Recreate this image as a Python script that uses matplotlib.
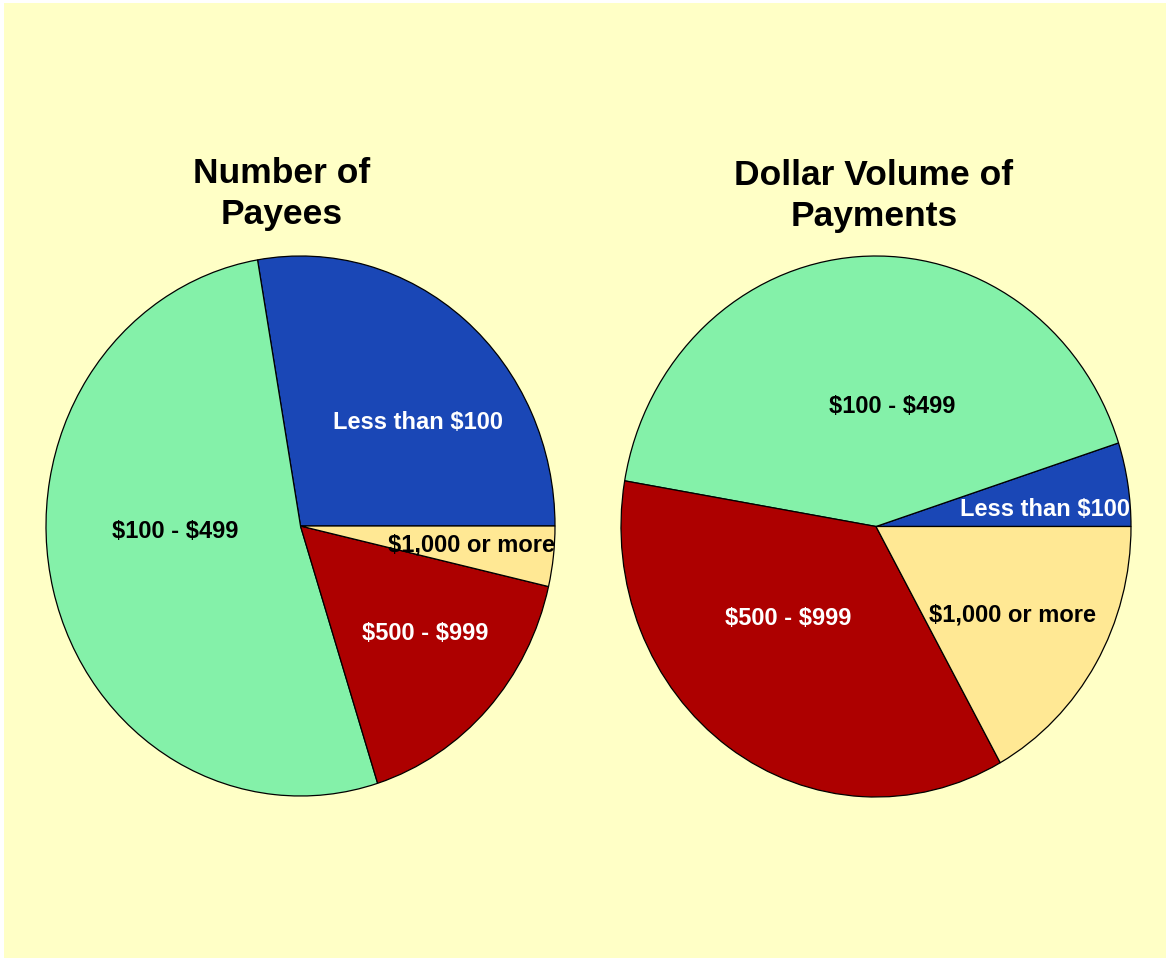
# two_pies.py
# Number of payees vs dollar volume of payments, by payment size
import matplotlib
matplotlib.use("Agg")
import matplotlib.pyplot as plt
from matplotlib.patches import Rectangle

plt.rcParams['font.family'] = ['Liberation Sans', 'DejaVu Sans']
plt.rcParams['text.parse_math'] = False   # dollar signs are plain text here

categories = ["Less than $100", "$100 - $499", "$500 - $999", "$1,000 or more"]
payees_pct = [27.7, 52.2, 16.5, 3.6]
volume_pct = [5.0, 42.3, 35.8, 16.9]
titles = ["Number of\nPayees", "Dollar Volume of\nPayments"]

colors = ["#1a47b6", "#84f1a9", "#ad0000", "#ffe894"]
text_colors = ["white", "black", "white", "black"]
bg = "#ffffc6"

# label spots inside each pie (pie radius = 1)
payees_label_xy = [(0.462, 0.383), (-0.493, -0.021), (0.489, -0.399), (0.670, -0.069)]
volume_label_xy = [(0.663, 0.062), (0.063, 0.443), (-0.345, -0.341), (0.537, -0.326)]

W, H = 1166, 958
fig = plt.figure(figsize=(W/100, H/100), dpi=100, facecolor="white")
fig.patches.append(Rectangle((3.5/W, 0), 1, 1 - 3/H, transform=fig.transFigure,
                             facecolor=bg, edgecolor="none", zorder=-10))

# pies are drawn slightly taller than wide, like the original
boxes = [(46, 256, 509, 540), (621, 256, 510, 541)]   # x, y, w, h in pixels
title_pos = [(282, 194), (874, 196)]

for (x, y, w, h), vals, lxy, title, (tx, ty) in zip(
        boxes, [payees_pct, volume_pct], [payees_label_xy, volume_label_xy],
        titles, title_pos):
    ax = fig.add_axes([x/W, (H - y - h)/H, w/W, h/H])
    ax.pie(vals, colors=colors, startangle=0, counterclock=True, radius=1,
           wedgeprops=dict(edgecolor="black", linewidth=0.9))
    ax.set_aspect("auto")
    ax.set_xlim(-1, 1)
    ax.set_ylim(-1, 1)
    ax.axis("off")
    for cat, (lx, ly), tc in zip(categories, lxy, text_colors):
        ax.text(lx, ly, cat, ha="center", va="center", color=tc,
                fontsize=17, fontweight="bold")
    fig.text(tx/W, 1 - ty/H, title, ha="center", va="center",
             fontsize=25.5, fontweight="bold", linespacing=1.3)

fig.savefig("out.png", dpi=100, facecolor=fig.get_facecolor())
